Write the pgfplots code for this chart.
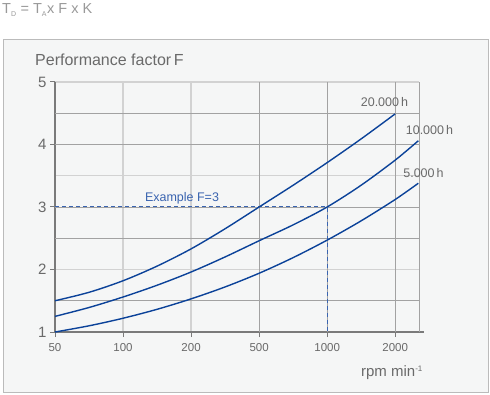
\documentclass[border=0pt]{standalone}
\usepackage{pgfplots}
\pgfplotsset{compat=1.18}
\usepackage{fontspec}
\setmainfont{Liberation Sans}
\definecolor{bgc}{HTML}{F5F6F6}
\definecolor{bdc}{HTML}{BBBBBB}
\definecolor{txt}{HTML}{6A6A6A}
\definecolor{curvec}{HTML}{0B4299}
\definecolor{dashc}{HTML}{3A64B0}
\definecolor{lgrid}{HTML}{D2D2D2}
\definecolor{dgrid}{HTML}{A2A2A2}
\definecolor{axc}{HTML}{7A7A7A}
\begin{document}
\begin{tikzpicture}
\path[use as bounding box] (0,0) rectangle (490pt,-395pt);
\fill[white] (0,0) rectangle (490pt,-395pt);
\filldraw[fill=bgc, draw=bdc, line width=1pt] (3pt,-40pt) rectangle (488pt,-392pt);
\node[anchor=west, inner sep=0pt, text=gray!80, font=\fontsize{14.5pt}{17pt}\selectfont] at (2pt,-10pt)
  {T\textsubscript{\fontsize{7pt}{8pt}\selectfont D} = T\textsubscript{\fontsize{7pt}{8pt}\selectfont A}x F x K};
\node[anchor=west, inner sep=0pt, text=txt, font=\fontsize{16pt}{19pt}\selectfont] at (35pt,-60pt) {Performance factor\,F};
\node[anchor=center, inner sep=0pt, text=txt, font=\fontsize{15pt}{18pt}\selectfont] at (392pt,-373pt) {rpm min\textsuperscript{\fontsize{8pt}{9pt}\selectfont -1}};
\begin{axis}[
  at={(55pt,-332pt)}, anchor=south west,
  scale only axis, width=364pt, height=250pt,
  xmin=0, xmax=5.35, ymin=1, ymax=5,
  axis lines*=left,
  axis line style={axc, line width=1.3pt, -},
  x axis line style={shorten >=-5pt},
  xtick={0,1,2,3,4,5},
  xticklabels={50,100,200,500,1000,2000},
  ytick={1,2,3,4,5},
  tick align=outside,
  major tick length=5pt,
  tick style={axc, line width=1pt},
  minor xtick={1,2}, minor ytick={2,3.5,5},
  xminorgrids, yminorgrids,
  minor tick length=0pt,
  minor grid style={lgrid, line width=1.5pt},
  major grid style={dgrid, line width=0.7pt},
  extra x ticks={3,4,5,5.35}, extra x tick labels={},
  extra y ticks={1.5,2.5,3,4,4.5}, extra y tick labels={},
  extra tick style={grid=major, major tick length=0pt},
  /pgf/number format/assume math mode=true,
  xticklabel style={text=txt, font=\fontsize{11.5pt}{13pt}\selectfont, yshift=-3pt},
  yticklabel style={text=txt, font=\fontsize{15pt}{18pt}\selectfont},
  clip=false,
]
\addplot[dashc, line width=1pt, dash pattern=on 4pt off 3pt] coordinates {(0,3) (4,3) (4,1)};
\addplot[curvec, line width=1.4pt, smooth] coordinates {(0,1.5) (0.5,1.635) (1,1.82) (1.5,2.054) (2,2.33) (2.5,2.652) (3,3.0) (3.5,3.348) (4,3.71) (4.5,4.09) (5,4.49)};
\addplot[curvec, line width=1.4pt, smooth] coordinates {(0,1.25) (0.5,1.392) (1,1.56) (1.5,1.748) (2,1.96) (2.5,2.201) (3,2.46) (3.5,2.714) (4,3.0) (4.5,3.349) (5,3.75) (5.34,4.06)};
\addplot[curvec, line width=1.4pt, smooth] coordinates {(0,1.0) (0.5,1.099) (1,1.22) (1.5,1.363) (2,1.53) (2.5,1.721) (3,1.94) (3.5,2.19) (4,2.47) (4.5,2.779) (5,3.12) (5.34,3.38)};
\end{axis}
\node[text=txt, inner sep=0pt, font=\fontsize{12.5pt}{15pt}\selectfont] at (384.5pt,-102pt) {20.000\,h};
\node[text=txt, inner sep=0pt, font=\fontsize{12.5pt}{15pt}\selectfont] at (429.5pt,-130pt) {10.000\,h};
\node[text=txt, inner sep=0pt, font=\fontsize{12.5pt}{15pt}\selectfont] at (423.5pt,-173pt) {5.000\,h};
\node[text=dashc, inner sep=0pt, font=\fontsize{12.5pt}{15pt}\selectfont] at (182pt,-198pt) {Example F=3};
\end{tikzpicture}
\end{document}
